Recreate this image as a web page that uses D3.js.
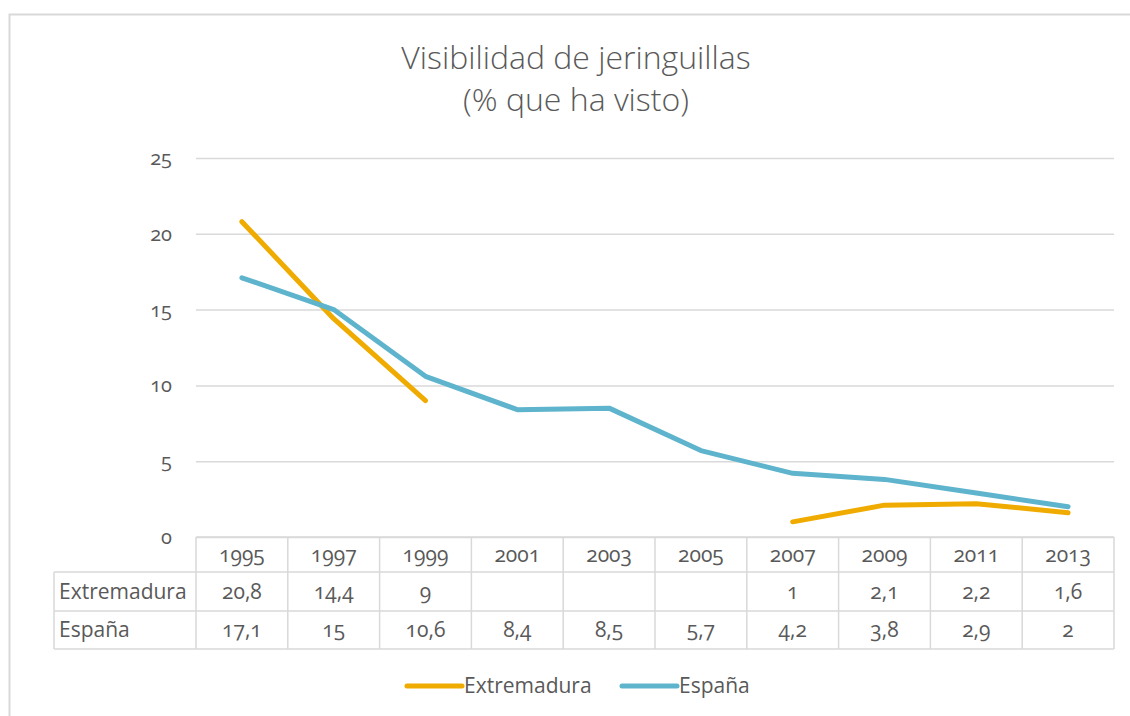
<!DOCTYPE html>
<html>
<head>
<meta charset="utf-8">
<script src="https://cdn.jsdelivr.net/npm/d3@7"></script>
<style>
  body { margin: 0; background: #fff; }
  svg text { font-family: "Open Sans", Lato, sans-serif; fill: #595959; font-variant-numeric: oldstyle-nums; }
</style>
</head>
<body>
<div id="chart"></div>
<script>
// data
const years = ["1995","1997","1999","2001","2003","2005","2007","2009","2011","2013"];
const extremadura = [20.8, 14.4, 9, null, null, null, 1, 2.1, 2.2, 1.6];
const espana = [17.1, 15, 10.6, 8.4, 8.5, 5.7, 4.2, 3.8, 2.9, 2];
const seriesNames = ["Extremadura", "España"];
const seriesColors = ["#F0AB00", "#5EB4CC"];
const yTicks = [0, 5, 10, 15, 20, 25];
const title = ["Visibilidad de jeringuillas", "(% que ha visto)"];

const width = 1130, height = 716;
const marginLeft = 196, marginRight = 16, marginTop = 158, plotBottom = 537;

const fmt = v => v == null ? "" : String(v).replace(".", ",");

const svg = d3.select("#chart").append("svg")
    .attr("width", width)
    .attr("height", height)
    .attr("viewBox", [0, 0, width, height]);

// chart frame
svg.append("rect")
    .attr("x", 9.5).attr("y", 14.5)
    .attr("width", width).attr("height", height)
    .attr("fill", "none")
    .attr("stroke", "#d9d9d9")
    .attr("stroke-width", 2);

const x = d3.scaleBand(years, [marginLeft, width - marginRight]);
const y = d3.scaleLinear([0, 25], [plotBottom, marginTop]);

// title, two separate lines
svg.append("g")
  .selectAll("text")
  .data(title)
  .join("text")
    .attr("x", 576)
    .attr("y", (d, i) => i ? 111 : 69)
    .attr("text-anchor", "middle")
    .style("font-size", "32px")
    .style("font-weight", 300)
    .text(d => d);

// y axis + grid
const yAxis = d3.axisLeft(y).tickValues(yTicks).tickSize(0).tickPadding(24);
svg.append("g")
    .attr("transform", `translate(${marginLeft},0)`)
    .call(yAxis)
    .call(g => g.select(".domain").remove())
    .call(g => g.selectAll(".tick line").clone()
        .attr("x2", width - marginRight - marginLeft)
        .attr("stroke", "#d9d9d9")
        .attr("stroke-width", 1.5))
    .call(g => g.selectAll(".tick text")
        .attr("fill", "#595959")
        .style("font-size", "20px"));

// lines
const rows = [extremadura, espana];
const line = d3.line()
    .defined(d => d != null)
    .x((d, i) => x(years[i]) + x.bandwidth() / 2)
    .y(d => y(d));

svg.append("g")
  .selectAll("path")
  .data(rows)
  .join("path")
    .attr("fill", "none")
    .attr("stroke", (d, i) => seriesColors[i])
    .attr("stroke-width", 5)
    .attr("stroke-linecap", "round")
    .attr("stroke-linejoin", "round")
    .attr("d", line);

// data table
const tableLeft = 54;
const rowEdges = [plotBottom, 572, 611, 649];
const grid = svg.append("g")
    .attr("stroke", "#d9d9d9")
    .attr("stroke-width", 1.5);

// horizontal lines
rowEdges.forEach((ry, i) => {
  grid.append("line")
      .attr("x1", i === 0 ? marginLeft : tableLeft)
      .attr("x2", width - marginRight)
      .attr("y1", ry).attr("y2", ry);
});
// vertical lines
const colEdges = years.map(d => x(d)).concat([width - marginRight]);
colEdges.forEach(cx => {
  grid.append("line")
      .attr("x1", cx).attr("x2", cx)
      .attr("y1", plotBottom).attr("y2", rowEdges[3]);
});
grid.append("line")
    .attr("x1", tableLeft).attr("x2", tableLeft)
    .attr("y1", rowEdges[1]).attr("y2", rowEdges[3]);

// header years
svg.append("g")
  .selectAll("text")
  .data(years)
  .join("text")
    .attr("x", d => x(d) + x.bandwidth() / 2)
    .attr("y", (rowEdges[0] + rowEdges[1]) / 2 + 7)
    .attr("text-anchor", "middle")
    .style("font-size", "21px")
    .text(d => d);

// row labels and values
rows.forEach((vals, r) => {
  const cy = (rowEdges[r + 1] + rowEdges[r + 2]) / 2 + 7;
  svg.append("text")
      .attr("x", tableLeft + 5)
      .attr("y", cy)
      .style("font-size", "21px")
      .text(seriesNames[r]);
  svg.append("g")
    .selectAll("text")
    .data(vals)
    .join("text")
      .attr("x", (d, i) => x(years[i]) + x.bandwidth() / 2)
      .attr("y", cy)
      .attr("text-anchor", "middle")
      .style("font-size", "21px")
      .text(d => fmt(d));
});

// legend
const legendX = [407, 622];
const legend = svg.append("g")
  .selectAll("g")
  .data(seriesNames)
  .join("g")
    .attr("transform", (d, i) => `translate(${legendX[i]},686)`);
legend.append("line")
    .attr("x1", 0).attr("x2", 55)
    .attr("stroke", (d, i) => seriesColors[i])
    .attr("stroke-width", 5)
    .attr("stroke-linecap", "round");
legend.append("text")
    .attr("x", 57)
    .attr("y", 7)
    .style("font-size", "21px")
    .text(d => d);
</script>
</body>
</html>
